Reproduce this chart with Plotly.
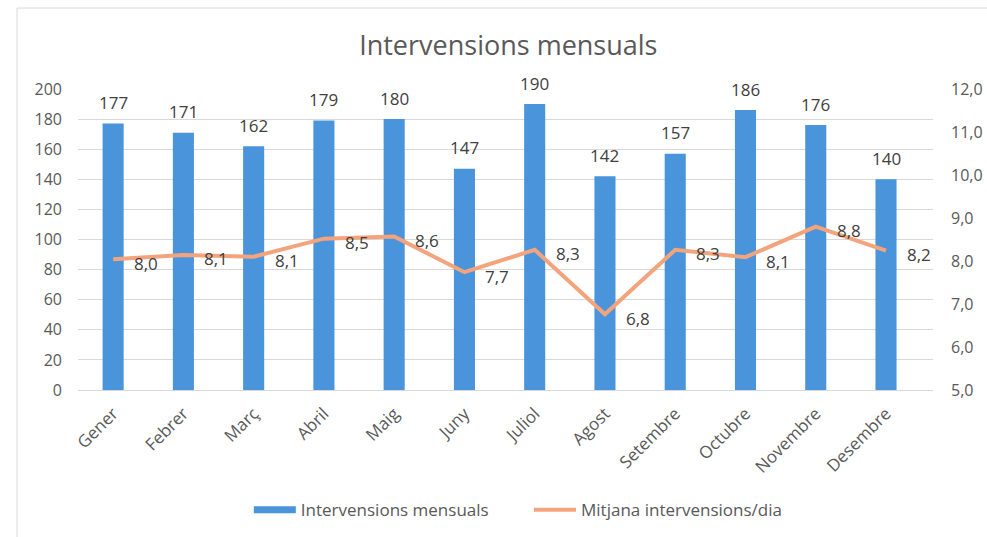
import plotly.graph_objects as go

# Data
mesos = ["Gener", "Febrer", "Març", "Abril", "Maig", "Juny",
         "Juliol", "Agost", "Setembre", "Octubre", "Novembre", "Desembre"]
intervencions = [177, 171, 162, 179, 180, 147, 190, 142, 157, 186, 176, 140]
mitjana_dia = [8.04, 8.14, 8.10, 8.52, 8.57, 7.74, 8.26, 6.76, 8.26, 8.09, 8.80, 8.24]

blau = "#4a94dc"
taronja = "#f4a47c"
gris = "#595959"
font = "Open Sans"
pad = "\u00a0" * 8

fig = go.Figure()

fig.add_trace(go.Bar(
    x=mesos, y=intervencions, name="Intervensions mensuals",
    marker=dict(color=blau, line=dict(width=0)),
    hoverinfo="skip", showlegend=False,
))

# legend stub so the bar key is drawn as a wide strip like the original
fig.add_trace(go.Scatter(
    x=[None], y=[None], mode="lines", name="Intervensions mensuals" + pad,
    line=dict(color=blau, width=7),
))

fig.add_trace(go.Scatter(
    x=mesos, y=mitjana_dia, name="Mitjana intervensions/dia",
    mode="lines", yaxis="y2",
    line=dict(color=taronja, width=4),
    hoverinfo="skip",
))

# bar value labels
for m, v in zip(mesos, intervencions):
    fig.add_annotation(x=m, y=v, yref="y", text=str(v), showarrow=False,
                       yshift=21, font=dict(size=17, color="#404040", family=font))

# line value labels (comma decimal)
for m, v in zip(mesos, mitjana_dia):
    fig.add_annotation(x=m, y=v, yref="y2", text=f"{v:.1f}".replace(".", ","),
                       showarrow=False, xshift=33, yshift=-4,
                       font=dict(size=17, color="#404040", family=font))

# outer chart frame
fig.add_shape(type="rect", xref="paper", yref="paper",
              x0=-0.0713, x1=1.3, y0=-0.8, y1=1.269,
              line=dict(color="#d9d9d9", width=1), layer="below")

fig.update_layout(
    width=987, height=537,
    margin=dict(l=78, r=54, t=89, b=147, autoexpand=False),
    paper_bgcolor="white", plot_bgcolor="white",
    font=dict(family=font, color=gris, size=15),
    title=dict(text="Intervensions mensuals", x=0.515, xanchor="center",
               y=0.916, yanchor="middle",
               font=dict(size=27, color=gris, family=font)),
    bargap=0.7,
    xaxis=dict(tickangle=-45, showgrid=False, showline=True, automargin=False,
               linecolor="#d9d9d9", ticks="", ticklabelstandoff=6,
               tickfont=dict(size=17, color=gris)),
    yaxis=dict(range=[0, 200], dtick=20, gridcolor="#d9d9d9", gridwidth=1,
               zeroline=False, showline=False, ticks="", ticklabelstandoff=15,
               automargin=False, tickfont=dict(size=16, color=gris)),
    yaxis2=dict(range=[5, 12], dtick=1, tickformat=".1f", overlaying="y",
                side="right", showgrid=False, zeroline=False, automargin=False,
                ticks="", ticklabelstandoff=17,
                tickfont=dict(size=16, color=gris)),
    separators=",.",
    legend=dict(orientation="h", x=0.515, xanchor="center",
                yref="container", y=0.050, yanchor="middle",
                font=dict(size=17, color=gris), itemwidth=42),
    showlegend=True,
)

fig.write_html("out.html", config={"displayModeBar": False},
               post_script="document.body.style.margin='0';document.body.style.overflow='hidden';")
